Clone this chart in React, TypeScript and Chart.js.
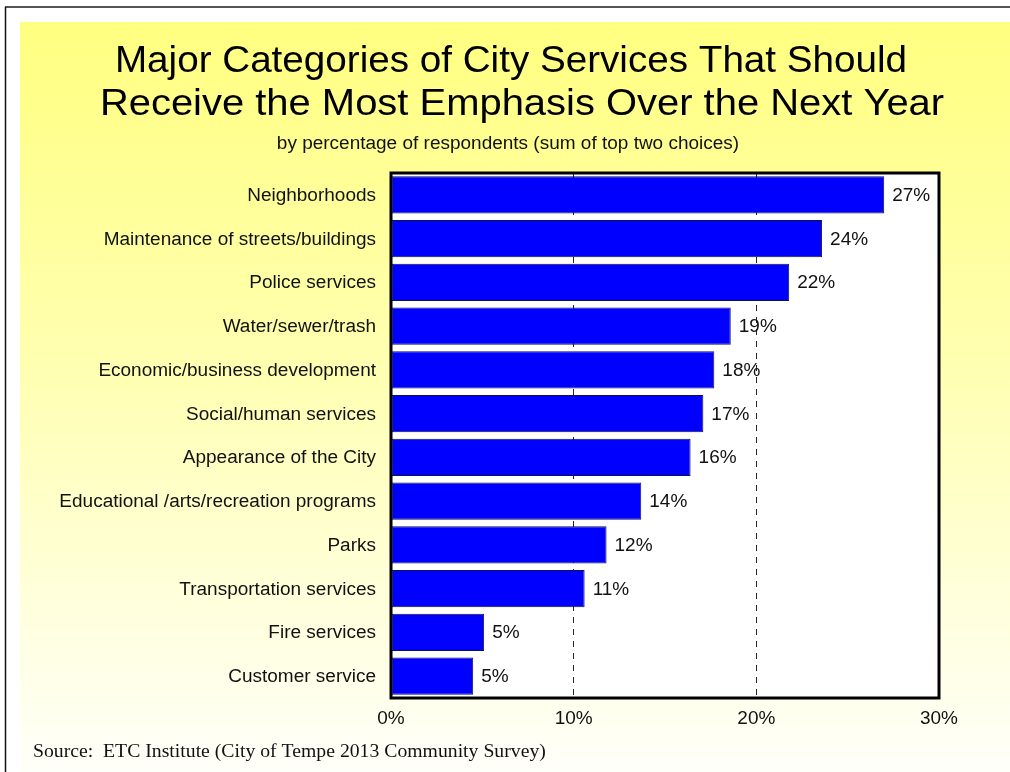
import React, { useEffect, useRef } from "react";
import { Chart, registerables } from "chart.js";

Chart.register(...registerables);

const categories = [
  "Neighborhoods",
  "Maintenance of streets/buildings",
  "Police services",
  "Water/sewer/trash",
  "Economic/business development",
  "Social/human services",
  "Appearance of the City",
  "Educational /arts/recreation programs",
  "Parks",
  "Transportation services",
  "Fire services",
  "Customer service",
];
const values = [27.0, 23.6, 21.8, 18.6, 17.7, 17.1, 16.4, 13.7, 11.8, 10.6, 5.1, 4.5];
const valueLabels = ["27%", "24%", "22%", "19%", "18%", "17%", "16%", "14%", "12%", "11%", "5%", "5%"];
const xTicks = [0, 10, 20, 30];
const titleLines = [
  "Major Categories of City Services That Should",
  "Receive the Most Emphasis Over the Next Year",
];
const subtitleText = "by percentage of respondents (sum of top two choices)";
const sourceText = "Source:  ETC Institute (City of Tempe 2013 Community Survey)";

const SANS = "Arial, 'Liberation Sans', sans-serif";
const SERIF = "'Times New Roman', 'Liberation Serif', serif";
const SX = 1.055;

function drawText(ctx: any, text: string, x: number, y: number, font: string, align: string, baseline: string, color: string, sx: number = SX) {
  ctx.save();
  ctx.font = font;
  ctx.fillStyle = color;
  ctx.textAlign = align;
  ctx.textBaseline = baseline;
  ctx.translate(x, y);
  ctx.scale(sx, 1);
  ctx.fillText(text, 0, 0);
  ctx.restore();
}

const decorPlugin = {
  id: "decor",
  beforeDraw(chart: any) {
    const { ctx, width, height, chartArea } = chart;
    ctx.save();
    ctx.fillStyle = "#ffffff";
    ctx.fillRect(0, 0, width, height);
    const g = ctx.createLinearGradient(0, 22, 0, height);
    g.addColorStop(0, "#ffff80");
    g.addColorStop(0.45, "#ffffb0");
    g.addColorStop(1, "#fffffa");
    ctx.fillStyle = g;
    ctx.fillRect(20, 22, width - 20, height - 22);
    ctx.strokeStyle = "#555555";
    ctx.lineWidth = 2;
    ctx.beginPath();
    ctx.moveTo(5, 7);
    ctx.lineTo(width, 7);
    ctx.stroke();
    ctx.strokeStyle = "#111111";
    ctx.lineWidth = 1.5;
    ctx.beginPath();
    ctx.moveTo(5.5, 7);
    ctx.lineTo(5.5, height);
    ctx.stroke();
    ctx.fillStyle = "#ffffff";
    ctx.fillRect(chartArea.left, chartArea.top, chartArea.right - chartArea.left, chartArea.bottom - chartArea.top);
    ctx.restore();

    drawText(ctx, titleLines[0], 511, 72, "37.5px " + SANS, "center", "alphabetic", "#000000", 1.03);
    drawText(ctx, titleLines[1], 522, 115, "37.5px " + SANS, "center", "alphabetic", "#000000", 1.065);
    drawText(ctx, subtitleText, 508, 149, "18px " + SANS, "center", "alphabetic", "#111111");
    drawText(ctx, sourceText, 33, 757, "18.7px " + SERIF, "left", "alphabetic", "#111111");

    const yScale = chart.scales.y;
    categories.forEach((c, i) => {
      const y = yScale.getPixelForValue(i);
      drawText(ctx, c, 376, y + 1, "18px " + SANS, "right", "middle", "#111111");
    });
    const xScale = chart.scales.x;
    xTicks.forEach((v) => {
      const x = xScale.getPixelForValue(v);
      drawText(ctx, v + "%", x, 724, "18px " + SANS, "center", "alphabetic", "#111111");
    });
  },
  afterDatasetsDraw(chart: any) {
    const { ctx, chartArea } = chart;
    const meta = chart.getDatasetMeta(0);
    meta.data.forEach((bar: any, i: number) => {
      drawText(ctx, valueLabels[i], bar.x + 8, bar.y + 1, "18px " + SANS, "left", "middle", "#111111");
    });
    ctx.save();
    ctx.strokeStyle = "#000000";
    ctx.lineWidth = 3;
    ctx.strokeRect(chartArea.left, chartArea.top, chartArea.right - chartArea.left, chartArea.bottom - chartArea.top);
    ctx.restore();
  },
};

export default function App() {
  const ref = useRef<HTMLCanvasElement | null>(null);
  useEffect(() => {
    if (!ref.current) return;
    const chart = new Chart(ref.current, {
      type: "bar",
      data: {
        labels: categories,
        datasets: [
          {
            data: values,
            backgroundColor: "#0000ff",
            borderColor: "#10104a",
            borderWidth: 1,
            borderSkipped: false,
            barPercentage: 0.85,
            categoryPercentage: 1,
          },
        ],
      },
      options: {
        indexAxis: "y",
        animation: false,
        responsive: false,
        maintainAspectRatio: false,
        layout: { padding: { left: 0, right: 71, top: 173, bottom: 0 } },
        plugins: {
          legend: { display: false },
          title: { display: false },
          tooltip: { enabled: false },
        },
        scales: {
          x: {
            min: 0,
            max: 30,
            afterBuildTicks(scale: any) {
              scale.ticks = xTicks.map((v) => ({ value: v }));
            },
            afterFit(scale: any) {
              scale.height = 74;
            },
            ticks: { display: false },
            grid: {
              drawTicks: false,
              lineWidth: 1,
              color: (c: any) =>
                c.tick && (c.tick.value === 10 || c.tick.value === 20) ? "#222222" : "rgba(0,0,0,0)",
            },
            border: { display: false, dash: [6, 6] },
          },
          y: {
            afterFit(scale: any) {
              scale.width = 391;
            },
            ticks: { display: false, autoSkip: false },
            grid: { display: false, drawTicks: false },
            border: { display: false },
          },
        },
      },
      plugins: [decorPlugin],
    });
    return () => chart.destroy();
  }, []);
  return (
    <div style={{ position: "fixed", left: 0, top: 0, width: 1010, height: 772 }}>
      <canvas ref={ref} width={1010} height={772} style={{ width: 1010, height: 772, display: "block" }} />
    </div>
  );
}
